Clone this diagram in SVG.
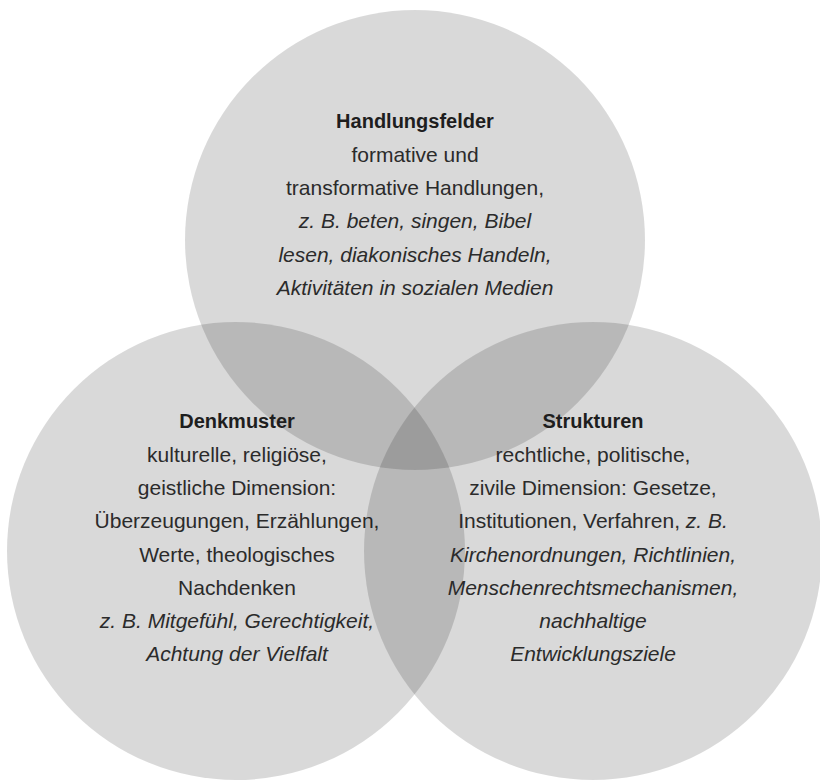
<svg xmlns="http://www.w3.org/2000/svg" width="820" height="780" viewBox="0 0 820 780">
<style>
.c{fill:#000;fill-opacity:0.149}
text{font-family:"Liberation Sans",Arial,sans-serif;font-size:21px;fill:#2b2b2b;text-anchor:middle}
.h{font-weight:bold;font-size:20px;fill:#1e1e1e}
.i{font-style:italic}
</style>
<rect width="820" height="780" fill="#fff"/>
<g id="handlungsfelder">
<circle class="c" cx="415" cy="240" r="230"/>
<text x="415" y="128" class="h">Handlungsfelder</text>
<text x="415" y="162">formative und</text>
<text x="415" y="195">transformative Handlungen,</text>
<text x="415" y="228" class="i">z. B. beten, singen, Bibel</text>
<text x="415" y="262" class="i">lesen, diakonisches Handeln,</text>
<text x="415" y="295" class="i">Aktivitäten in sozialen Medien</text>
</g>
<g id="denkmuster">
<circle class="c" cx="236" cy="551" r="229"/>
<text x="237" y="428" class="h">Denkmuster</text>
<text x="237" y="462">kulturelle, religiöse,</text>
<text x="237" y="495">geistliche Dimension:</text>
<text x="237" y="528">Überzeugungen, Erzählungen,</text>
<text x="237" y="562">Werte, theologisches</text>
<text x="237" y="595">Nachdenken</text>
<text x="237" y="628" class="i">z. B. Mitgefühl, Gerechtigkeit,</text>
<text x="237" y="661" class="i">Achtung der Vielfalt</text>
</g>
<g id="strukturen">
<circle class="c" cx="593" cy="551" r="229"/>
<text x="593" y="428" class="h">Strukturen</text>
<text x="593" y="462">rechtliche, politische,</text>
<text x="593" y="495">zivile Dimension: Gesetze,</text>
<text x="593" y="528">Institutionen, Verfahren, <tspan class="i">z. B.</tspan></text>
<text x="593" y="562" class="i">Kirchenordnungen, Richtlinien,</text>
<text x="593" y="595" class="i">Menschenrechtsmechanismen,</text>
<text x="593" y="628" class="i">nachhaltige</text>
<text x="593" y="661" class="i">Entwicklungsziele</text>
</g>
<g id="connectors"/>
</svg>
